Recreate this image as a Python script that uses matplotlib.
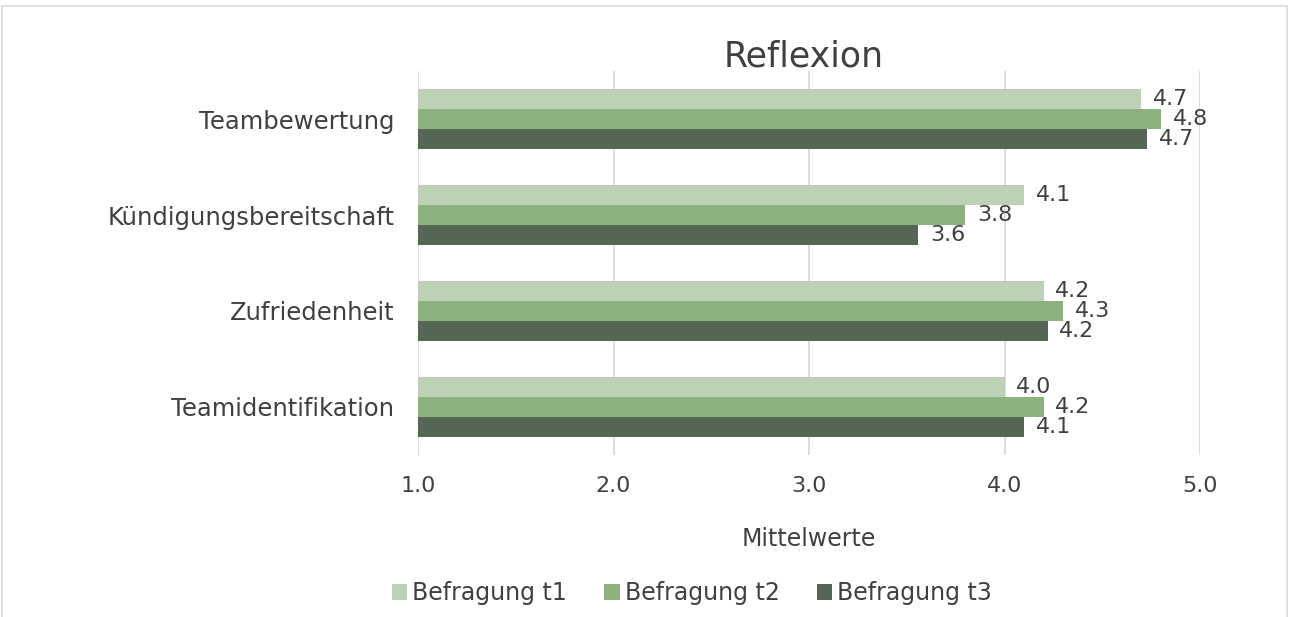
import numpy as np
import matplotlib.pyplot as plt
from matplotlib.patches import Rectangle

# data (bar lengths, labels are rounded to 1 decimal)
categories = ['Teamidentifikation', 'Zufriedenheit', 'Kündigungsbereitschaft', 'Teambewertung']
series_names = ['Befragung t1', 'Befragung t2', 'Befragung t3']
t1 = [4.00, 4.20, 4.10, 4.70]
t2 = [4.20, 4.30, 3.80, 4.80]
t3 = [4.10, 4.22, 3.56, 4.73]
x_ticks = [1.0, 2.0, 3.0, 4.0, 5.0]

colors = ['#bcd1b5', '#8db07f', '#556655']
text_col = '#404040'
grid_col = '#d9d9d9'

plt.rcParams['font.family'] = ['DejaVu Sans']

fig = plt.figure(figsize=(12.9, 6.17), dpi=100)
ax = fig.add_axes([418/1290, 1-455/617, (1200-418)/1290, (455-71)/617])

y = np.arange(len(categories))
h = 0.625 / 3
offsets = [h, 0, -h]
for vals, off, col, name in zip([t1, t2, t3], offsets, colors, series_names):
    # bars start at 1.0 (axis minimum)
    ax.barh(y + off, np.array(vals) - 1.0, left=1.0, height=h, color=col, label=name, zorder=3)
    for yi, v in zip(y, vals):
        ax.text(v + 0.06, yi + off, f'{v:.1f}', va='center', ha='left',
                fontsize=16, color=text_col, zorder=4)

ax.set_xlim(1.0, 5.0)
ax.set_ylim(-0.5, len(categories) - 0.5)
ax.set_xticks(x_ticks)
ax.set_xticklabels([f'{t:.1f}' for t in x_ticks])
ax.set_yticks(y)
ax.set_yticklabels(categories)
ax.tick_params(axis='x', length=0, pad=15, labelsize=16, labelcolor=text_col)
ax.tick_params(axis='y', length=0, pad=17, labelsize=17.5, labelcolor=text_col)
for s in ax.spines.values():
    s.set_visible(False)
for t in x_ticks:
    ax.axvline(t, color=grid_col, linewidth=1.3, zorder=1)

fig.text(804/1290, 1-66.5/617, 'Reflexion', ha='center', va='baseline', fontsize=25, color=text_col)
fig.text(809/1290, 1-545.5/617, 'Mittelwerte', ha='center', va='baseline', fontsize=17, color=text_col)

handles, labels = ax.get_legend_handles_labels()
fig.legend(handles, labels, loc='center', bbox_to_anchor=(692/1290, 1-593/617), ncol=3,
           frameon=False, fontsize=17, handlelength=0.64, handleheight=0.64,
           handletextpad=0.21, columnspacing=1.6, labelcolor=text_col)

# light frame around the chart area
fig.patches.append(Rectangle((2/1290, -0.05), 1285/1290, 1.05 - 6/617, transform=fig.transFigure,
                             fill=False, edgecolor='#d9d9d9', linewidth=1.2))

fig.savefig('out.png', dpi=100)
